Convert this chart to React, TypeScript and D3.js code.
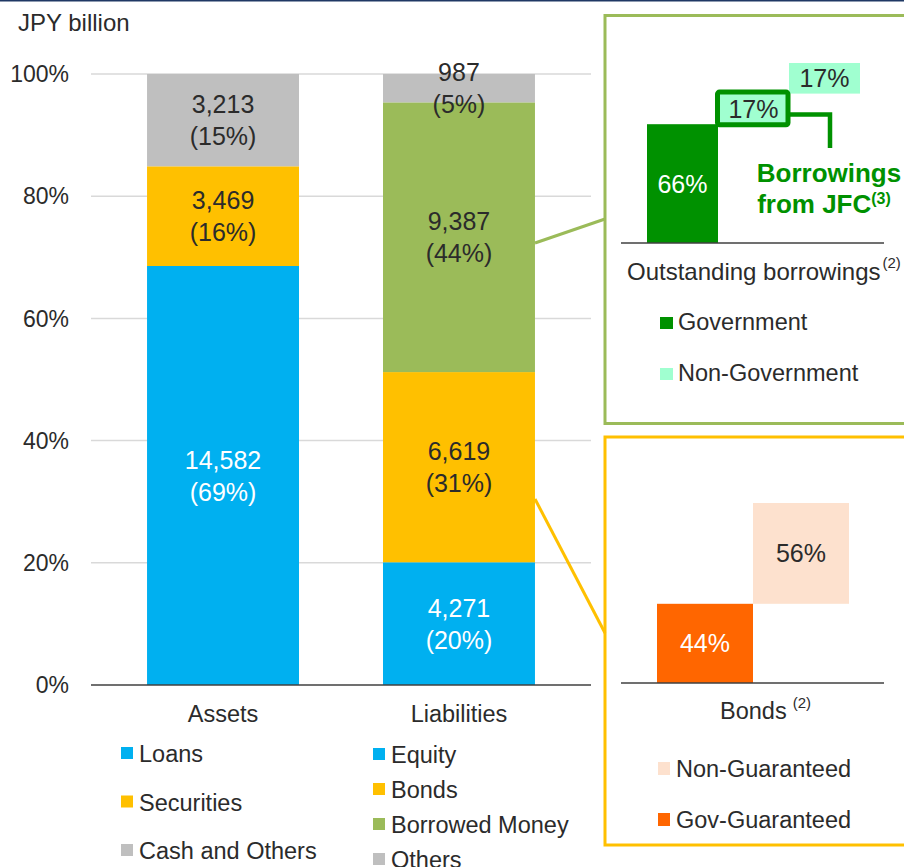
import React from "react";
import * as d3 from "d3";

// main stacked bars
const categories = ["Assets", "Liabilities"];
const assetSeries = ["Loans", "Securities", "Cash and Others"];
const assetValues = [14582, 3469, 3213];
const assetPct = [69, 16, 15];
const liabilitySeries = ["Equity", "Bonds", "Borrowed Money", "Others"];
const liabilityValues = [4271, 6619, 9387, 987];
const liabilityPct = [20, 31, 44, 5];
const yTicks = [0, 0.2, 0.4, 0.6, 0.8, 1];

// breakdown panels
const borrowKeys = ["Government", "JFC", "Non-Government"];
const borrowShares = [66, 17, 17];
const bondKeys = ["Gov-Guaranteed", "Non-Guaranteed"];
const bondShares = [44, 56];

const colors: Record<string, string> = {
  Loans: "#00B0F0",
  Equity: "#00B0F0",
  Securities: "#FFC000",
  Bonds: "#FFC000",
  "Cash and Others": "#BFBFBF",
  Others: "#BFBFBF",
  "Borrowed Money": "#9BBB59",
  Government: "#009100",
  JFC: "#A0FFD0",
  "Non-Government": "#A0FFD0",
  "Gov-Guaranteed": "#FF6600",
  "Non-Guaranteed": "#FDE1CE",
};

const FONT = "'Liberation Sans', Arial, sans-serif";
const TXT = "#2b2b2b";
const FS = 23.5; // body text size
const LS = 25; // value label size

const fmt = d3.format(",");

function stack(keys: string[], values: number[], pct: number[]) {
  const total = d3.sum(values);
  const cum = d3.cumsum(values);
  return keys.map((k, i) => ({
    key: k,
    value: values[i],
    pct: pct[i],
    y0: (cum[i] - values[i]) / total,
    y1: cum[i] / total,
  }));
}

const App = () => {
  const width = 904;
  const height = 867;

  const y = d3.scaleLinear().domain([0, 1]).range([685, 74]);
  const x = d3
    .scaleBand()
    .domain(categories)
    .range([91, 591])
    .paddingInner(0.356)
    .paddingOuter(0.2375);

  const stacks = [
    stack(assetSeries, assetValues, assetPct),
    stack(liabilitySeries, liabilityValues, liabilityPct),
  ];

  // borrowings waterfall
  const bx = d3.scaleBand().domain(borrowKeys).range([647, 860]);
  const by = d3.scaleLinear().domain([0, 100]).range([243, 63]);
  const bCum = d3.cumsum(borrowShares);

  // bonds waterfall
  const gx = d3.scaleBand().domain(bondKeys).range([657, 849]);
  const gy = d3.scaleLinear().domain([0, 100]).range([683, 503]);
  const gCum = d3.cumsum(bondShares);

  const jfcX = bx("JFC")!;
  const jfcW = bx.bandwidth();
  const jfcTop = by(bCum[1]);
  const jfcBot = by(bCum[0]);

  return (
    <>
      <style>{`body{margin:0}`}</style>
      <svg width={width} height={height} style={{ display: "block", fontFamily: FONT }}>
        <rect x={0} y={0} width={width} height={1.5} fill="#1F3864" />

        <text x={18} y={31} fontSize={24} fill={TXT}>
          JPY billion
        </text>

        {/* grid + y ticks */}
        {yTicks.map((t) => (
          <g key={t}>
            {t > 0 && (
              <line x1={91} x2={591} y1={y(t)} y2={y(t)} stroke="#D9D9D9" strokeWidth={1.5} />
            )}
            <text x={69} y={y(t)} dy="0.36em" textAnchor="end" fontSize={23} fill={TXT}>
              {d3.format(".0%")(t)}
            </text>
          </g>
        ))}

        {/* stacked bars */}
        {categories.map((c, ci) => (
          <g key={c}>
            {stacks[ci].map((s) => {
              const top = y(s.y1);
              const bot = y(s.y0);
              const mid = (top + bot) / 2;
              const fill = colors[s.key] === "#00B0F0" ? "#fff" : TXT;
              const cx = x(c)! + x.bandwidth() / 2;
              return (
                <g key={s.key}>
                  <rect x={x(c)} y={top} width={x.bandwidth()} height={bot - top} fill={colors[s.key]} />
                  <text x={cx} y={mid - 16} dy="0.36em" textAnchor="middle" fontSize={LS} fill={fill}>
                    {fmt(s.value)}
                  </text>
                  <text x={cx} y={mid + 16} dy="0.36em" textAnchor="middle" fontSize={LS} fill={fill}>
                    ({s.pct}%)
                  </text>
                </g>
              );
            })}
            <text x={x(c)! + x.bandwidth() / 2} y={722} textAnchor="middle" fontSize={FS} fill={TXT}>
              {c}
            </text>
          </g>
        ))}
        <line x1={91} x2={591} y1={y(0)} y2={y(0)} stroke="#404040" strokeWidth={1.5} />

        {/* legends */}
        {assetSeries.map((k, i) => (
          <g key={k} transform={`translate(121, ${762 + i * 48.5})`}>
            <rect x={0} y={-15} width={12} height={12} fill={colors[k]} />
            <text x={18} y={0} fontSize={FS} fill={TXT}>
              {k}
            </text>
          </g>
        ))}
        {liabilitySeries.map((k, i) => (
          <g key={k} transform={`translate(373, ${763 + i * 35})`}>
            <rect x={0} y={-15} width={12} height={12} fill={colors[k]} />
            <text x={18} y={0} fontSize={FS} fill={TXT}>
              {k}
            </text>
          </g>
        ))}

        {/* connectors */}
        <line x1={535} y1={243} x2={605} y2={219} stroke="#9BBB59" strokeWidth={3} />
        <line x1={535} y1={499} x2={605} y2={633} stroke="#FFC000" strokeWidth={3} />

        {/* borrowings panel */}
        <rect x={605} y={15.5} width={310} height={408} fill="none" stroke="#9BBB59" strokeWidth={3} />
        {borrowKeys.map((k, i) => {
          const top = by(bCum[i]);
          const bot = by(bCum[i] - borrowShares[i]);
          return (
            <g key={k}>
              <rect x={bx(k)} y={top} width={bx.bandwidth()} height={bot - top} fill={colors[k]} />
              <text
                x={bx(k)! + bx.bandwidth() / 2}
                y={(top + bot) / 2}
                dy="0.36em"
                textAnchor="middle"
                fontSize={LS}
                fill={k === "Government" ? "#fff" : TXT}
              >
                {borrowShares[i]}%
              </text>
            </g>
          );
        })}
        <rect
          x={jfcX - 0.5}
          y={jfcTop - 1.5}
          width={jfcW - 0.5}
          height={jfcBot - jfcTop + 2}
          rx={2}
          fill="none"
          stroke="#009100"
          strokeWidth={5}
        />
        <polyline
          points={`${jfcX + jfcW},114.5 830,114.5 830,148`}
          fill="none"
          stroke="#009100"
          strokeWidth={4.5}
        />
        <text x={829} y={182} textAnchor="middle" fontSize={26} fontWeight="bold" fill="#009100">
          Borrowings
        </text>
        <text x={824} y={213} textAnchor="middle" fontSize={26} fontWeight="bold" fill="#009100">
          from JFC
          <tspan fontSize={16} dy={-9}>
            (3)
          </tspan>
        </text>
        <line x1={621} x2={884} y1={243} y2={243} stroke="#404040" strokeWidth={1.5} />
        <text x={627} y={280} fontSize={FS + 0.5} fill={TXT}>
          Outstanding borrowings
          <tspan fontSize={15} dx={2} dy={-12}>
            (2)
          </tspan>
        </text>
        {["Government", "Non-Government"].map((k, i) => (
          <g key={k} transform={`translate(660, ${330 + i * 51})`}>
            <rect x={0} y={-13} width={13} height={12} fill={colors[k]} />
            <text x={18} y={0} fontSize={FS} fill={TXT}>
              {k}
            </text>
          </g>
        ))}

        {/* bonds panel */}
        <rect x={605} y={437} width={310} height={408} fill="none" stroke="#FFC000" strokeWidth={3} />
        {bondKeys.map((k, i) => {
          const top = gy(gCum[i]);
          const bot = gy(gCum[i] - bondShares[i]);
          return (
            <g key={k}>
              <rect x={gx(k)} y={top} width={gx.bandwidth()} height={bot - top} fill={colors[k]} />
              <text
                x={gx(k)! + gx.bandwidth() / 2}
                y={(top + bot) / 2}
                dy="0.36em"
                textAnchor="middle"
                fontSize={LS}
                fill={k === "Gov-Guaranteed" ? "#fff" : TXT}
              >
                {bondShares[i]}%
              </text>
            </g>
          );
        })}
        <line x1={621} x2={884} y1={683} y2={683} stroke="#404040" strokeWidth={1.5} />
        <text x={720} y={719} fontSize={FS} fill={TXT}>
          Bonds
          <tspan fontSize={15} dx={6} dy={-11}>
            (2)
          </tspan>
        </text>
        {["Non-Guaranteed", "Gov-Guaranteed"].map((k, i) => (
          <g key={k} transform={`translate(658, ${777 + i * 51})`}>
            <rect x={0} y={-15} width={12} height={13} fill={colors[k]} />
            <text x={18} y={0} fontSize={FS} fill={TXT}>
              {k}
            </text>
          </g>
        ))}
      </svg>
    </>
  );
};

export default App;
